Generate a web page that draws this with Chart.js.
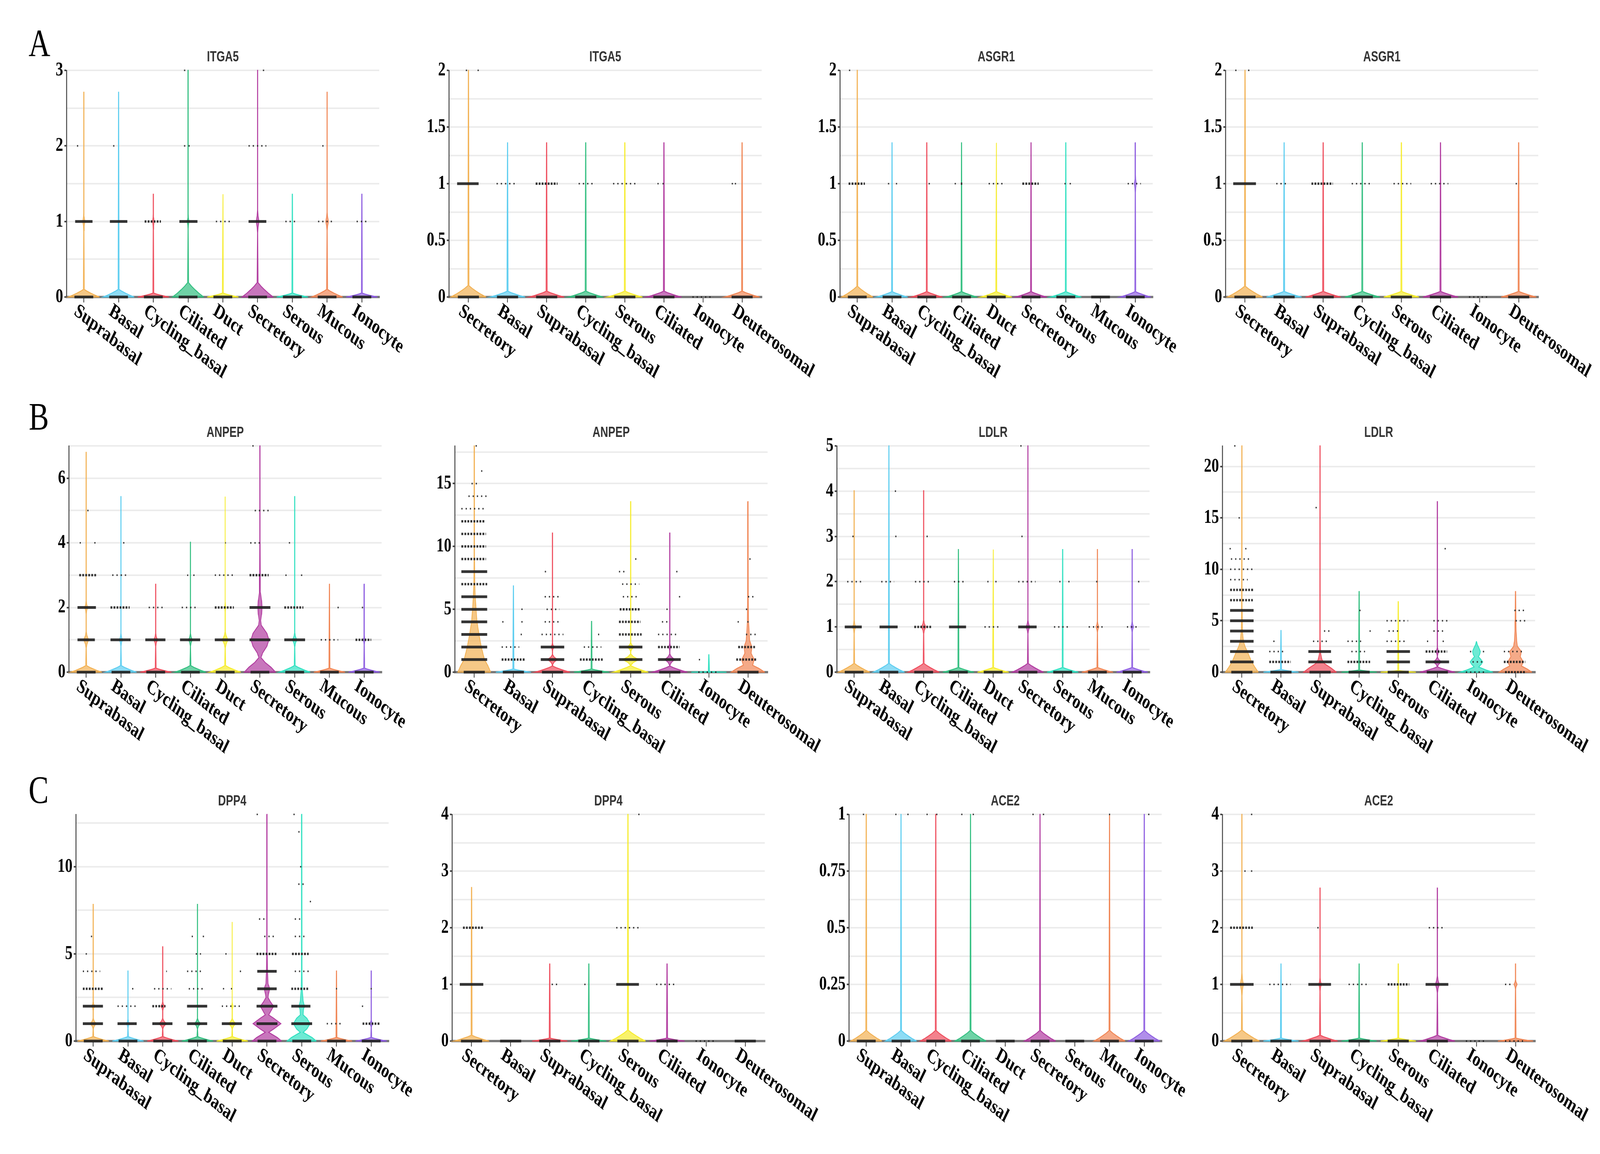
<!DOCTYPE html>
<html>
<head>
<meta charset="utf-8">
<script src="https://cdn.jsdelivr.net/npm/chart.js@4.4.1/dist/chart.umd.min.js"></script>
<style>
  html, body { margin: 0; padding: 0; background: #fff; overflow: hidden; }
  body { position: relative; }
  canvas { position: absolute; }
</style>
</head>
<body>
<script>
// cell types, two orders used in the figure
const cellsA = ["Suprabasal", "Basal", "Cycling_basal", "Ciliated", "Duct", "Secretory", "Serous", "Mucous", "Ionocyte"];
const cellsB = ["Secretory", "Basal", "Suprabasal", "Cycling_basal", "Serous", "Ciliated", "Ionocyte", "Deuterosomal"];
const palette = ["#F2B050", "#5BCDF0", "#EE4A5A", "#2FBE7E", "#F6EC2A", "#B0389E", "#2DE0C0", "#F08452", "#8C5BE0"];

// panels, row by row
const rowTags = ["A", "B", "C"];
const genes = ["ITGA5", "ITGA5", "ASGR1", "ASGR1", "ANPEP", "ANPEP", "LDLR", "LDLR", "DPP4", "DPP4", "ACE2", "ACE2"];
const panelCells = [cellsA, cellsB, cellsA, cellsB, cellsA, cellsB, cellsA, cellsB, cellsA, cellsB, cellsA, cellsB];
const yMax = [3, 2, 2, 2, 7, 18, 5, 22, 13, 4, 1, 4];
const yLabels = [
  [0, 1, 2, 3], [0, 0.5, 1, 1.5, 2], [0, 0.5, 1, 1.5, 2], [0, 0.5, 1, 1.5, 2],
  [0, 2, 4, 6], [0, 5, 10, 15], [0, 1, 2, 3, 4, 5], [0, 5, 10, 15, 20],
  [0, 5, 10], [0, 1, 2, 3, 4], [0, 0.25, 0.5, 0.75, 1], [0, 1, 2, 3, 4]
];
const yGrid = [0.5, 0.25, 0.25, 0.25, 1, 2.5, 0.5, 2.5, 2.5, 0.5, 0.125, 0.5];

// top of every violin (0 = no violin)
const violinTop = [
  [2.71, 2.71, 1.36, 3, 1.36, 3, 1.36, 2.71, 1.36],
  [2, 1.36, 1.36, 1.36, 1.36, 1.36, 0, 1.36],
  [2, 1.36, 1.36, 1.36, 1.36, 1.36, 1.36, 0, 1.36],
  [2, 1.36, 1.36, 1.36, 1.36, 1.36, 0, 1.36],
  [6.8, 5.43, 2.72, 4.02, 5.43, 7, 5.43, 2.72, 2.72],
  [18, 6.86, 11.07, 4.03, 13.56, 11.07, 1.38, 13.56],
  [4.01, 5, 4.01, 2.71, 2.71, 5, 2.71, 2.71, 2.71],
  [22, 4.05, 22, 7.84, 6.85, 16.58, 2.96, 7.84],
  [7.84, 4.02, 5.41, 7.84, 6.83, 13, 13, 4.02, 4.02],
  [2.71, 0, 1.36, 1.36, 4, 1.36, 0, 0],
  [1, 1, 1, 1, 0, 1, 0, 1, 1],
  [4, 1.36, 2.7, 1.36, 1.36, 2.7, 0, 1.36]
];

// height of the hump sitting on zero
const humpHeight = [
  [0.1, 0.1, 0.05, 0.19, 0.05, 0.19, 0.05, 0.1, 0.05],
  [0.1, 0.05, 0.05, 0.05, 0.05, 0.05, 0, 0.05],
  [0.093, 0.046, 0.046, 0.046, 0.046, 0.046, 0.046, 0, 0.046],
  [0.094, 0.048, 0.048, 0.048, 0.048, 0.048, 0, 0.048],
  [0.2, 0.2, 0.12, 0.2, 0.2, 0, 0.2, 0.12, 0.12],
  [0, 0.24, 0.47, 0.24, 0.5, 0.47, 0.05, 0],
  [0.19, 0.19, 0.19, 0.1, 0.1, 0.19, 0.1, 0.1, 0.1],
  [0, 0.25, 0, 0.2, 0.15, 0.5, 0, 0],
  [0.25, 0.25, 0.25, 0.25, 0.25, 0, 0, 0.2, 0.2],
  [0.1, 0, 0.05, 0.05, 0.19, 0.05, 0, 0],
  [0.046, 0.046, 0.046, 0.046, 0, 0.046, 0, 0.046, 0.046],
  [0.19, 0.05, 0.1, 0.05, 0.05, 0.1, 0, 0.05]
];

// spindles on a violin: [value, half width, half height]
const bulges = [
  [[[1, 0.03, 0.12]], [], [[1, 0.025, 0.1]], [[1, 0.025, 0.1]], [], [[1, 0.04, 0.15]], [], [[1, 0.04, 0.12]], []],
  [[], [], [], [], [], [], [], []],
  [[], [], [], [], [], [], [], [], [[1, 0.03, 0.08]]],
  [[], [], [], [], [], [], [], []],
  [[[1, 0.07, 0.25], [2, 0.04, 0.2]], [[1, 0.04, 0.2]], [[1, 0.05, 0.2]], [[1, 0.05, 0.2]], [[1, 0.08, 0.25], [2, 0.02, 0.15]], [], [[1, 0.06, 0.22]], [], [[1, 0.03, 0.15]]],
  [[], [], [[1, 0.12, 0.4], [2, 0.04, 0.3]], [], [[1, 0.2, 0.45], [2, 0.08, 0.35]], [[1, 0.12, 0.45], [2, 0.03, 0.3]], [], []],
  [[[1, 0.04, 0.15]], [], [[1, 0.06, 0.15]], [], [], [[1, 0.05, 0.15]], [], [[1, 0.04, 0.12]], [[1, 0.04, 0.12]]],
  [[], [], [], [], [], [[1, 0.1, 0.45], [2, 0.04, 0.4]], [], []],
  [[[1, 0.08, 0.3], [2, 0.04, 0.25]], [[1, 0.04, 0.25]], [[1, 0.1, 0.3], [2, 0.05, 0.25]], [[1, 0.08, 0.3]], [[1, 0.1, 0.3], [2, 0.03, 0.2]], [], [], [], [[1, 0.05, 0.2]]],
  [[], [], [], [], [], [], [], []],
  [[], [], [], [], [], [], [], [], []],
  [[[1, 0.04, 0.2]], [], [[1, 0.03, 0.12]], [], [], [[1, 0.05, 0.15]], [], [[1, 0.04, 0.08]]]
];

// full outlines: [panel, cell, [[value, half width], ...]]
const shapes = [
  [4, 5, [[0, 0.45], [0.15, 0.32], [0.3, 0.15], [0.45, 0.03], [0.6, 0.08], [0.8, 0.2], [1, 0.26], [1.2, 0.2], [1.45, 0.04], [1.6, 0.02], [1.8, 0.05], [2, 0.06], [2.2, 0.05], [2.45, 0.015], [3, 0.01], [4, 0.006]]],
  [5, 0, [[0, 0.42], [0.5, 0.35], [1, 0.26], [2, 0.18], [3, 0.12], [4, 0.07], [5, 0.045], [6, 0.025], [7, 0.012], [9, 0.006]]],
  [5, 7, [[0, 0.43], [0.3, 0.28], [0.55, 0.12], [1, 0.16], [1.5, 0.08], [2, 0.1], [2.5, 0.045], [3, 0.035], [4, 0.015], [6, 0.008]]],
  [7, 0, [[0, 0.42], [0.5, 0.33], [1, 0.25], [2, 0.14], [2.5, 0.08], [3, 0.04], [4, 0.015], [6, 0.008]]],
  [7, 2, [[0, 0.42], [0.4, 0.28], [0.8, 0.12], [1.2, 0.05], [1.8, 0.015], [3, 0.006]]],
  [7, 6, [[0, 0.42], [0.2, 0.25], [0.5, 0.06], [0.8, 0.13], [1, 0.16], [1.3, 0.1], [1.5, 0.05], [1.7, 0.08], [2, 0.1], [2.3, 0.07], [2.7, 0.02]]],
  [7, 7, [[0, 0.42], [0.3, 0.3], [0.6, 0.15], [1, 0.2], [1.5, 0.12], [2, 0.15], [2.5, 0.05], [3, 0.03], [4, 0.015], [5, 0.01]]],
  [8, 5, [[0, 0.42], [0.2, 0.3], [0.5, 0.05], [0.7, 0.2], [1, 0.4], [1.3, 0.2], [1.5, 0.05], [1.75, 0.12], [2, 0.19], [2.25, 0.1], [2.5, 0.03], [2.75, 0.05], [3, 0.08], [3.3, 0.03], [4, 0.015], [5, 0.008]]],
  [8, 6, [[0, 0.42], [0.2, 0.3], [0.5, 0.04], [0.7, 0.15], [1, 0.24], [1.3, 0.15], [1.5, 0.04], [1.8, 0.05], [2, 0.08], [2.3, 0.04], [3, 0.015], [4, 0.008]]]
];

// jittered cells: [value, from, to, density d/m/s]
const dots = [
  [ // ITGA5
    [[1, -0.25, 0.25, "d"], [2, -0.18, -0.18, "s"]],
    [[1, -0.25, 0.25, "d"], [2, -0.14, -0.14, "s"]],
    [[1, -0.25, 0.22, "m"]],
    [[1, -0.25, 0.27, "d"], [2, -0.1, -0.1, "s"], [2, 0.03, 0.03, "s"], [3, -0.1, -0.1, "s"]],
    [[1, -0.2, 0.2, "s"]],
    [[1, -0.26, 0.25, "d"], [2, -0.26, 0.25, "s"], [3, 0.17, 0.17, "s"]],
    [[1, -0.2, 0.15, "s"]],
    [[1, -0.26, 0.22, "s"], [2, -0.12, -0.12, "s"]],
    [[1, -0.15, 0.15, "s"]]
  ],
  [ // ITGA5
    [[1, -0.29, 0.26, "d"], [2, -0.05, -0.05, "s"], [2, 0.25, 0.25, "s"]],
    [[1, -0.28, 0.25, "s"]],
    [[1, -0.28, 0.28, "m"]],
    [[1, -0.18, 0.25, "s"]],
    [[1, -0.3, 0.28, "s"]],
    [[1, -0.15, -0.15, "s"], [1, -0.02, -0.02, "s"]],
    [],
    [[1, -0.25, -0.25, "s"], [1, -0.17, -0.17, "s"]]
  ],
  [ // ASGR1
    [[1, -0.25, 0.22, "m"], [2, -0.22, -0.22, "s"]],
    [[1, -0.1, -0.1, "s"], [1, 0.13, 0.13, "s"]],
    [[1, 0.07, 0.07, "s"]],
    [[1, -0.18, -0.18, "s"], [1, -0.02, 0.02, "m"]],
    [[1, -0.22, 0.22, "s"]],
    [[1, -0.25, 0.22, "m"]],
    [[1, -0.02, -0.02, "s"], [1, 0.13, 0.13, "s"]],
    [],
    [[1, -0.22, 0.16, "s"]]
  ],
  [ // ASGR1
    [[1, -0.3, 0.28, "d"], [2, -0.25, -0.15, "s"], [2, 0.08, 0.12, "s"]],
    [[1, -0.2, 0.05, "s"]],
    [[1, -0.3, 0.25, "m"]],
    [[1, -0.27, 0.2, "s"]],
    [[1, -0.2, 0.25, "s"]],
    [[1, -0.25, 0.2, "s"]],
    [],
    [[1, -0.06, -0.06, "s"]]
  ],
  [ // ANPEP
    [[1, -0.25, 0.25, "d"], [2, -0.25, 0.28, "d"], [3, -0.2, 0.3, "m"], [4, -0.17, -0.17, "s"], [4, 0.25, 0.25, "s"], [5, 0.05, 0.05, "s"]],
    [[1, -0.3, 0.28, "d"], [2, -0.3, 0.25, "m"], [3, -0.25, 0.2, "s"], [4, 0.08, 0.08, "s"]],
    [[1, -0.3, 0.28, "d"], [2, -0.2, 0.2, "s"]],
    [[1, -0.3, 0.28, "d"], [2, -0.25, 0.2, "s"], [3, -0.08, -0.08, "s"], [3, 0.1, 0.1, "s"]],
    [[1, -0.3, 0.28, "d"], [2, -0.3, 0.25, "m"], [3, -0.3, 0.25, "s"], [4, 0, 0.02, "s"]],
    [[1, -0.3, 0.3, "d"], [2, -0.3, 0.3, "d"], [3, -0.3, 0.25, "m"], [4, -0.28, 0.05, "s"], [5, -0.15, 0.28, "s"], [7, -0.2, -0.2, "s"]],
    [[1, -0.3, 0.3, "d"], [2, -0.3, 0.25, "m"], [3, -0.25, -0.25, "s"], [3, 0.2, 0.2, "s"], [4, -0.15, -0.15, "s"]],
    [[1, -0.25, 0.25, "s"], [2, 0.25, 0.25, "s"]],
    [[1, -0.25, 0.2, "m"], [2, -0.05, -0.05, "s"]]
  ],
  [ // ANPEP
    [[1, -0.33, 0.33, "d"], [2, -0.33, 0.33, "d"], [3, -0.33, 0.33, "d"], [4, -0.33, 0.33, "d"], [5, -0.33, 0.33, "d"], [6, -0.33, 0.33, "d"], [7, -0.33, 0.33, "m"], [8, -0.33, 0.33, "d"], [9, -0.33, 0.3, "m"], [10, -0.33, 0.3, "m"], [11, -0.33, 0.3, "m"], [12, -0.33, 0.28, "m"], [13, -0.33, 0.3, "s"], [14, -0.15, 0.33, "s"], [15, -0.07, 0.1, "s"], [16, 0.19, 0.19, "s"], [18, 0.05, 0.05, "s"]],
    [[1, -0.3, 0.3, "m"], [2, -0.3, 0.15, "s"], [3, 0.2, 0.2, "s"], [4, -0.27, -0.27, "s"], [4, 0.22, 0.22, "s"], [5, 0.22, 0.22, "s"]],
    [[1, -0.3, 0.3, "d"], [2, -0.3, 0.3, "d"], [3, -0.28, 0.28, "s"], [4, -0.2, 0.2, "s"], [5, -0.15, 0.18, "s"], [6, -0.2, 0.18, "s"], [8, -0.18, -0.18, "s"]],
    [[1, -0.3, 0.3, "m"], [2, -0.2, 0.25, "s"], [3, 0.18, 0.18, "s"]],
    [[1, -0.3, 0.3, "d"], [2, -0.3, 0.3, "d"], [3, -0.3, 0.28, "m"], [4, -0.3, 0.25, "m"], [5, -0.28, 0.25, "m"], [6, -0.2, 0.2, "s"], [7, -0.22, 0.22, "s"], [8, -0.3, -0.15, "s"], [9, 0.13, 0.13, "s"]],
    [[1, -0.3, 0.28, "d"], [2, -0.3, 0.25, "m"], [3, -0.3, 0.2, "s"], [4, -0.2, -0.05, "s"], [5, -0.07, -0.07, "s"], [6, 0.25, 0.25, "s"], [8, 0.18, 0.18, "s"]],
    [[1, -0.24, -0.24, "s"]],
    [[1, -0.3, 0.22, "m"], [2, -0.25, 0.18, "m"], [3, -0.05, 0.25, "s"], [4, -0.25, -0.25, "s"], [4, 0, 0, "s"], [5, -0.05, 0.05, "s"], [6, 0, 0.15, "s"], [9, 0.05, 0.05, "s"]]
  ],
  [ // LDLR
    [[1, -0.27, 0.22, "d"], [2, -0.2, 0.2, "s"], [3, -0.05, 0.05, "s"]],
    [[1, -0.27, 0.25, "d"], [2, -0.22, 0.15, "s"], [3, 0.2, 0.2, "s"], [4, 0.17, 0.22, "s"]],
    [[1, -0.27, 0.22, "m"], [2, -0.25, 0.2, "s"], [3, 0.1, 0.1, "s"]],
    [[1, -0.27, 0.22, "d"], [2, -0.13, 0.2, "s"]],
    [[1, -0.25, 0.15, "s"], [2, -0.15, -0.15, "s"], [2, 0.08, 0.08, "s"]],
    [[1, -0.28, 0.25, "d"], [2, -0.28, 0.22, "s"], [3, -0.17, -0.17, "s"], [5, -0.2, -0.2, "s"]],
    [[1, -0.25, 0.2, "s"], [2, -0.08, -0.08, "s"], [2, 0.18, 0.18, "s"]],
    [[1, -0.25, 0.2, "s"], [2, -0.02, -0.02, "s"]],
    [[1, -0.15, 0.2, "s"], [2, 0.17, 0.22, "s"]]
  ],
  [ // LDLR
    [[1, -0.3, 0.3, "d"], [2, -0.3, 0.3, "d"], [3, -0.3, 0.3, "d"], [4, -0.3, 0.3, "d"], [5, -0.3, 0.3, "d"], [6, -0.3, 0.3, "d"], [7, -0.3, 0.28, "m"], [8, -0.3, 0.3, "m"], [9, -0.3, 0.15, "s"], [10, -0.3, 0.28, "s"], [11, -0.28, 0.2, "s"], [12, -0.3, -0.3, "s"], [12, 0.1, 0.1, "s"], [15, -0.07, -0.07, "s"], [22, -0.18, -0.18, "s"]],
    [[1, -0.3, 0.25, "m"], [2, -0.3, 0.1, "s"], [3, -0.18, -0.18, "s"]],
    [[1, -0.3, 0.3, "d"], [2, -0.3, 0.28, "d"], [3, -0.18, 0.2, "s"], [4, 0.1, 0.28, "s"], [16, -0.1, -0.1, "s"]],
    [[1, -0.3, 0.28, "m"], [2, -0.2, 0.15, "s"], [3, -0.3, 0.05, "s"], [4, 0.28, 0.28, "s"], [6, 0.02, 0.02, "s"]],
    [[1, -0.3, 0.3, "d"], [2, -0.3, 0.3, "d"], [3, -0.3, 0.2, "s"], [4, -0.25, 0, "s"], [5, -0.3, 0.25, "s"]],
    [[1, -0.3, 0.3, "d"], [2, -0.3, 0.25, "m"], [3, -0.25, -0.25, "s"], [3, 0.15, 0.15, "s"], [4, -0.1, 0.2, "s"], [5, -0.1, 0.28, "s"], [12, 0.2, 0.2, "s"]],
    [[1, -0.1, 0.2, "s"], [2, -0.15, -0.15, "s"], [2, 0.18, 0.18, "s"]],
    [[1, -0.3, 0.25, "m"], [2, -0.3, 0.2, "s"], [5, 0, 0.25, "s"], [6, -0.03, 0.25, "s"]]
  ],
  [ // DPP4
    [[1, -0.3, 0.28, "d"], [2, -0.3, 0.28, "d"], [3, -0.3, 0.28, "m"], [4, -0.3, 0.2, "s"], [5, -0.2, -0.2, "s"], [6, -0.05, -0.05, "s"]],
    [[1, -0.3, 0.25, "d"], [2, -0.3, 0.22, "s"], [3, 0.12, 0.18, "s"]],
    [[1, -0.3, 0.28, "d"], [2, -0.3, 0.08, "m"], [3, -0.25, 0.25, "s"], [4, 0.1, 0.12, "s"]],
    [[1, -0.3, 0.28, "d"], [2, -0.3, 0.28, "d"], [3, -0.25, 0.2, "s"], [4, -0.3, 0.1, "s"], [5, -0.05, 0.1, "s"], [6, -0.15, -0.15, "s"], [6, 0.17, 0.17, "s"]],
    [[1, -0.3, 0.28, "d"], [2, -0.3, 0.28, "s"], [3, -0.25, -0.25, "s"], [3, -0.02, -0.02, "s"], [4, 0.22, 0.27, "s"], [5, -0.18, -0.18, "s"]],
    [[1, -0.3, 0.3, "d"], [2, -0.3, 0.3, "d"], [3, -0.28, 0.28, "d"], [4, -0.28, 0.28, "d"], [5, -0.3, 0.28, "m"], [6, -0.08, 0.25, "s"], [7, -0.23, -0.05, "s"], [13, -0.28, -0.28, "s"]],
    [[1, -0.3, 0.3, "d"], [2, -0.3, 0.25, "d"], [3, -0.3, 0.2, "m"], [4, -0.2, 0.25, "s"], [5, -0.28, 0.2, "m"], [6, -0.2, 0.1, "s"], [7, -0.2, 0, "s"], [8, 0.25, 0.25, "s"], [9, -0.1, 0.1, "s"], [10, -0.03, -0.03, "s"], [12, -0.08, -0.08, "s"], [13, -0.22, -0.22, "s"]],
    [[1, -0.28, 0.2, "s"], [3, 0, 0, "s"]],
    [[1, -0.25, 0.25, "m"], [2, -0.25, -0.25, "s"], [3, 0, 0, "s"]]
  ],
  [ // DPP4
    [[1, -0.3, 0.3, "d"], [2, -0.22, 0.3, "m"]],
    [],
    [[1, 0.05, 0.2, "s"]],
    [[1, -0.1, -0.1, "s"]],
    [[1, -0.3, 0.28, "d"], [2, -0.3, 0.28, "s"], [4, 0.28, 0.28, "s"]],
    [[1, -0.28, 0.25, "s"]],
    [],
    []
  ],
  [ // ACE2
    [[1, -0.08, -0.08, "s"]],
    [[1, -0.15, -0.15, "s"], [1, 0.2, 0.2, "s"]],
    [[1, -0.25, -0.25, "s"], [1, 0.03, 0.03, "s"]],
    [[1, -0.25, -0.25, "s"], [1, 0.08, 0.08, "s"]],
    [],
    [[1, -0.2, -0.2, "s"], [1, 0.1, 0.1, "s"]],
    [],
    [[1, 0, 0, "s"]],
    [[1, 0.13, 0.13, "s"]]
  ],
  [ // ACE2
    [[1, -0.3, 0.3, "d"], [2, -0.3, 0.28, "m"], [3, 0.08, 0.08, "s"], [3, 0.25, 0.25, "s"], [4, 0.25, 0.25, "s"]],
    [[1, -0.3, 0.25, "s"]],
    [[1, -0.3, 0.28, "d"], [2, -0.07, -0.02, "s"]],
    [[1, -0.27, 0.22, "s"]],
    [[1, -0.27, 0.28, "m"]],
    [[1, -0.3, 0.28, "d"], [2, -0.22, 0.2, "s"]],
    [],
    [[1, -0.27, -0.1, "s"]]
  ]
];

// cells at zero, one letter per cell type
const zeroStyle = ["ddddddddd", "ddddddsd", "ddddddddd", "ddddddsd", "ddddddddd", "ddddddsd",
                   "ddddddddd", "ddddddsm", "ddddddddd", "ddddddsd", "ddddddddd", "ddddddss"];

// ---------- layout (figure units, 5315 x 2953) ----------
const FIG_W = 5315, FIG_H = 2953;
const ROW_TOP = [180, 1141, 2084];
const ROW_ZERO = [760, 1720, 2664];
const COL_LEFT = [[221, 1491, 2790, 4071], [228, 1511, 2780, 4061], [252, 1502, 2820, 4061]];
const TAG_X = 95, TAG_BASE = [144, 1099, 2054];
const PLOT_W = 1039;
const PAD_L = 200, PAD_T = 130, PAD_R = 300, PAD_B = 260;
const Y_AXIS_W = 125, X_AXIS_H = 20;

const MAX_HALF = 0.45;
const THIN = 0.004;
const HUMP = [[0, 1], [0.25, 0.7], [0.5, 0.45], [0.75, 0.22], [1, 0.03]];
const DOT_STYLE = {
  d: { w: 7, dash: [] },
  m: { w: 6, dash: [6, 4] },
  s: { w: 4, dash: [4, 10] }
};

// the figure fills the window
const viewW = window.innerWidth || FIG_W;
const viewH = window.innerHeight || FIG_H;
const sx = viewW / FIG_W, sy = viewH / FIG_H;
document.body.style.width = viewW + "px";
document.body.style.height = viewH + "px";
const ratio = (window.devicePixelRatio || 1) * Math.max(sx, sy);

function near(a, b) { return Math.abs(a - b) < 1e-6; }

// knots [value, half width] from bottom to top of one violin
function outline(p, i) {
  const top = violinTop[p][i];
  const custom = shapes.find(s => s[0] === p && s[1] === i);
  let knots = [];
  if (custom) {
    knots = custom[2].slice();
  } else if (humpHeight[p][i] > 0) {
    knots = HUMP.map(([f, w]) => [f * humpHeight[p][i], w * MAX_HALF]);
  }
  bulges[p][i].forEach(([c, w, h]) => {
    knots.push([c - h, THIN], [c - h / 2, w * 0.35], [c, w], [c + h / 2, w * 0.35], [c + h, THIN]);
  });
  knots.push([top, THIN]);
  knots.sort((a, b) => a[0] - b[0]);
  if (knots[0][0] > 0) knots.unshift([0, THIN]);
  return knots;
}

function buildDatasets(p) {
  const sets = [];
  const cells = panelCells[p];
  cells.forEach((c, i) => {
    const col = palette[i];
    if (violinTop[p][i] > 0) {
      const knots = outline(p, i);
      const right = knots.map(([y, w]) => ({ x: i + w, y }));
      const left = knots.slice().reverse().map(([y, w]) => ({ x: i - w, y }));
      const pts = right.concat(left, [right[0]]);
      sets.push({
        data: pts, borderColor: col, backgroundColor: col + "B0", borderWidth: 2.5,
        pointRadius: 0, fill: "shape", tension: 0, order: 2, clip: false
      });
    }
    const groups = [[0, -0.27, 0.27, zeroStyle[p][i]]].concat(dots[p][i]);
    groups.forEach(([lv, a, b, k]) => {
      const st = DOT_STYLE[k];
      const single = near(a, b);
      sets.push({
        data: [{ x: i + a, y: lv }, { x: i + b, y: lv }],
        borderColor: "rgba(35,35,35,0.92)", borderWidth: st.w, borderDash: st.dash,
        showLine: !single, pointRadius: single ? 2.6 : 0, pointStyle: "rect",
        pointBackgroundColor: "#3a3a3a", pointBorderWidth: 0,
        fill: false, order: 0, clip: false
      });
    });
  });
  return sets;
}

const panelText = {
  id: "panelText",
  afterDraw(chart, args, opts) {
    const { ctx, chartArea, scales } = chart;
    ctx.save();
    // row letter
    if (opts.tag) {
      ctx.fillStyle = "#000";
      ctx.font = '100px "Liberation Serif", "Times New Roman", serif';
      ctx.textAlign = "left";
      ctx.textBaseline = "alphabetic";
      ctx.fillText(opts.tag, opts.tagX, opts.tagY);
    }
    // gene name
    ctx.fillStyle = "#333";
    ctx.font = 'bold 36px "Liberation Sans", Arial, sans-serif';
    ctx.textAlign = "center";
    ctx.textBaseline = "middle";
    ctx.fillText(opts.gene, (chartArea.left + chartArea.right) / 2, chartArea.top - 33);
    // slanted cell type names
    ctx.fillStyle = "#000";
    ctx.font = 'bold 52px "Liberation Serif", "Times New Roman", serif';
    ctx.textAlign = "left";
    ctx.textBaseline = "top";
    opts.cells.forEach((c, i) => {
      const px = scales.x.getPixelForValue(i);
      ctx.save();
      ctx.translate(px - 14, chartArea.bottom + 10);
      ctx.rotate(32 * Math.PI / 180);
      ctx.fillText(c, 0, 0);
      ctx.restore();
    });
    ctx.restore();
  }
};

genes.forEach((gene, p) => {
  const row = Math.floor(p / 4), colIdx = p % 4;
  const cells = panelCells[p];
  const plotH = ROW_ZERO[row] - ROW_TOP[row];
  const left = COL_LEFT[row][colIdx] - PAD_L;
  const top = ROW_TOP[row] - PAD_T;
  const canvas = document.createElement("canvas");
  canvas.width = PAD_L + PLOT_W + PAD_R;
  canvas.height = PAD_T + plotH + PAD_B;
  canvas.style.left = (left * sx) + "px";
  canvas.style.top = (top * sy) + "px";
  canvas.style.width = (canvas.width * sx) + "px";
  canvas.style.height = (canvas.height * sy) + "px";
  document.body.appendChild(canvas);

  const labels = yLabels[p];
  const isLabel = v => labels.some(l => near(l, v));

  new Chart(canvas.getContext("2d"), {
    type: "line",
    data: { datasets: buildDatasets(p) },
    plugins: [panelText],
    options: {
      responsive: false,
      devicePixelRatio: ratio,
      animation: false,
      layout: { padding: { left: PAD_L - Y_AXIS_W, top: PAD_T, right: PAD_R, bottom: PAD_B - X_AXIS_H } },
      plugins: {
        legend: { display: false },
        tooltip: { enabled: false },
        panelText: {
          gene: gene, cells: cells,
          tag: colIdx === 0 ? rowTags[row] : "",
          tagX: TAG_X - left, tagY: TAG_BASE[row] - top
        }
      },
      scales: {
        x: {
          type: "linear",
          min: -0.5,
          max: cells.length - 0.5,
          afterBuildTicks: s => { s.ticks = cells.map((c, i) => ({ value: i })); },
          afterFit: s => { s.height = X_AXIS_H; },
          ticks: { display: false },
          grid: { drawOnChartArea: false, drawTicks: true, tickLength: 14, tickColor: "#555", lineWidth: 3 },
          border: { display: true, color: "#7a7a7a", width: 6 }
        },
        y: {
          type: "linear",
          min: 0,
          max: yMax[p],
          afterFit: s => { s.width = Y_AXIS_W; },
          ticks: {
            stepSize: yGrid[p],
            includeBounds: false,
            autoSkip: false,
            padding: 4,
            color: "#000",
            font: { family: '"Liberation Serif", "Times New Roman", serif', weight: "bold", size: 50 },
            callback: v => (isLabel(v) ? String(v) : "")
          },
          grid: {
            color: "#ececec",
            lineWidth: 4,
            drawTicks: true,
            tickLength: 7,
            tickColor: ctx => (ctx.tick && isLabel(ctx.tick.value) ? "#444" : "rgba(0,0,0,0)")
          },
          border: { display: true, color: "#444", width: 3 }
        }
      }
    }
  });
});
</script>
</body>
</html>
